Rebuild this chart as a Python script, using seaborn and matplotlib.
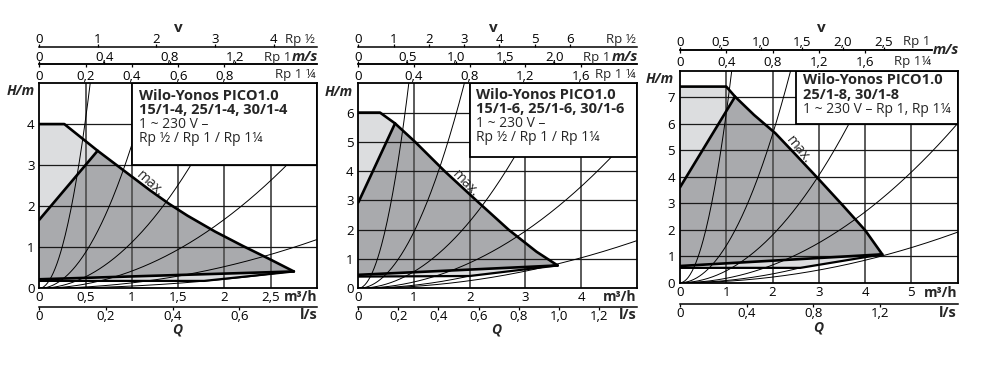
import numpy as np
import matplotlib
matplotlib.use("Agg")
import matplotlib.pyplot as plt
from matplotlib.patches import Rectangle
import seaborn as sns

# ---------------- data ----------------
# panel 1: Wilo-Yonos PICO1.0 15/1-4, 25/1-4, 30/1-4
q_max_1 = [0, 0.27, 0.63, 1.0, 1.2, 1.4, 1.6, 1.9, 2.2, 2.48, 2.75]
h_max_1 = [4.0, 4.0, 3.35, 2.72, 2.38, 2.06, 1.77, 1.38, 1.03, 0.72, 0.41]
q_dpc_1 = [0, 0.63]
h_dpc_1 = [1.67, 3.35]
h_base_1 = [0.22, 0.41]
q_low_1 = [0, 1.78, 2.75]
h_low_1 = [0.18, 0.18, 0.41]
k_sys_1 = [16.5, 3.5, 1.12, 0.42, 0.132, 0.055]
qend_sys_1 = [3, 3, 3, 3, 3, 2.75]
x_ticks_1 = [0, 0.5, 1, 1.5, 2, 2.5]
x_labels_1 = ["0", "0,5", "1", "1,5", "2", "2,5"]
y_ticks_1 = [0, 1, 2, 3, 4]
rp12_ticks_1 = [0, 1, 2, 3, 4]
rp1_ticks_1 = [0, 0.4, 0.8, 1.2]
rp1_labels_1 = ["0", "0,4", "0,8", "1,2"]
rp114_ticks_1 = [0, 0.2, 0.4, 0.6, 0.8]
rp114_labels_1 = ["0", "0,2", "0,4", "0,6", "0,8"]
ls_ticks_1 = [0, 0.2, 0.4, 0.6]
ls_labels_1 = ["0", "0,2", "0,4", "0,6"]
text_1 = ["Wilo-Yonos PICO1.0", "15/1-4, 25/1-4, 30/1-4", "1 ~ 230 V –", "Rp ½ / Rp 1 / Rp 1¼"]

# panel 2: Wilo-Yonos PICO1.0 15/1-6, 25/1-6, 30/1-6
q_max_2 = [0, 0.39, 0.66, 1.02, 1.55, 2.12, 2.7, 3.2, 3.58]
h_max_2 = [6.0, 6.0, 5.63, 5.0, 4.0, 3.0, 2.0, 1.25, 0.78]
q_dpc_2 = [0, 0.66]
h_dpc_2 = [2.93, 5.63]
h_base_2 = [0.46, 0.78]
q_low_2 = [0, 2.0, 3.58]
h_low_2 = [0.40, 0.42, 0.78]
k_sys_2 = [8.5, 1.93, 0.57, 0.217, 0.065, 0.105]
qend_sys_2 = [5, 5, 5, 5, 5, 2.0]
x_ticks_2 = [0, 1, 2, 3, 4]
x_labels_2 = ["0", "1", "2", "3", "4"]
y_ticks_2 = [0, 1, 2, 3, 4, 5, 6]
rp12_ticks_2 = [0, 1, 2, 3, 4, 5, 6]
rp1_ticks_2 = [0, 0.5, 1.0, 1.5, 2.0]
rp1_labels_2 = ["0", "0,5", "1,0", "1,5", "2,0"]
rp114_ticks_2 = [0, 0.4, 0.8, 1.2, 1.6]
rp114_labels_2 = ["0", "0,4", "0,8", "1,2", "1,6"]
ls_ticks_2 = [0, 0.2, 0.4, 0.6, 0.8, 1.0, 1.2]
ls_labels_2 = ["0", "0,2", "0,4", "0,6", "0,8", "1,0", "1,2"]
text_2 = ["Wilo-Yonos PICO1.0", "15/1-6, 25/1-6, 30/1-6", "1 ~ 230 V –", "Rp ½ / Rp 1 / Rp 1¼"]

# panel 3: Wilo-Yonos PICO1.0 25/1-8, 30/1-8
q_max_3 = [0, 1.0, 1.19, 1.6, 2.06, 2.5, 3.0, 3.5, 4.0, 4.37]
h_max_3 = [7.4, 7.4, 7.02, 6.33, 5.64, 4.83, 3.9, 2.95, 1.98, 1.07]
q_dpc_3 = [0, 1.19]
h_dpc_3 = [3.6, 7.02]
h_base_3 = [0.63, 1.07]
q_low_3 = [0, 2.6, 4.37]
h_low_3 = [0.56, 0.56, 1.07]
k_sys_3 = [6.4, 1.4, 0.45, 0.167, 0.053, 0.083]
qend_sys_3 = [6, 6, 6, 6, 6, 2.6]
x_ticks_3 = [0, 1, 2, 3, 4, 5]
x_labels_3 = ["0", "1", "2", "3", "4", "5"]
y_ticks_3 = [0, 1, 2, 3, 4, 5, 6, 7]
rp1_ticks_3 = [0, 0.5, 1.0, 1.5, 2.0, 2.5]
rp1_labels_3 = ["0", "0,5", "1,0", "1,5", "2,0", "2,5"]
rp114_ticks_3 = [0, 0.4, 0.8, 1.2, 1.6]
rp114_labels_3 = ["0", "0,4", "0,8", "1,2", "1,6"]
ls_ticks_3 = [0, 0.4, 0.8, 1.2]
ls_labels_3 = ["0", "0,4", "0,8", "1,2"]
text_3 = ["Wilo-Yonos PICO1.0", "25/1-8, 30/1-8", "1 ~ 230 V – Rp 1, Rp 1¼"]

# m3/h per m/s for each pipe size, m3/h per l/s
F_RP12, F_RP1, F_RP114, F_LS = 0.633, 1.76, 2.5, 3.6

DARK = "#a9aaad"
LIGHT = "#dcdddf"
FS = 9.5  # tick label size

panels = [
    dict(q_max=q_max_1, h_max=h_max_1, q_dpc=q_dpc_1, h_dpc=h_dpc_1, h_base=h_base_1,
         q_low=q_low_1, h_low=h_low_1, k_sys=k_sys_1, qend=qend_sys_1,
         xt=x_ticks_1, xl=x_labels_1, yt=y_ticks_1, lim=(3, 5), boxlo=(1.0, 3.0),
         rp12=rp12_ticks_1, rp1=(rp1_ticks_1, rp1_labels_1), rp114=(rp114_ticks_1, rp114_labels_1),
         ls=(ls_ticks_1, ls_labels_1), text=text_1, maxlab=(1.2, 2.55, -42)),
    dict(q_max=q_max_2, h_max=h_max_2, q_dpc=q_dpc_2, h_dpc=h_dpc_2, h_base=h_base_2,
         q_low=q_low_2, h_low=h_low_2, k_sys=k_sys_2, qend=qend_sys_2,
         xt=x_ticks_2, xl=x_labels_2, yt=y_ticks_2, lim=(5, 7), boxlo=(2.0, 4.5),
         rp12=rp12_ticks_2, rp1=(rp1_ticks_2, rp1_labels_2), rp114=(rp114_ticks_2, rp114_labels_2),
         ls=(ls_ticks_2, ls_labels_2), text=text_2, maxlab=(1.92, 3.55, -46)),
    dict(q_max=q_max_3, h_max=h_max_3, q_dpc=q_dpc_3, h_dpc=h_dpc_3, h_base=h_base_3,
         q_low=q_low_3, h_low=h_low_3, k_sys=k_sys_3, qend=qend_sys_3,
         xt=x_ticks_3, xl=x_labels_3, yt=y_ticks_3, lim=(6, 8), boxlo=(2.5, 6.0),
         rp12=None, rp1=(rp1_ticks_3, rp1_labels_3), rp114=(rp114_ticks_3, rp114_labels_3),
         ls=(ls_ticks_3, ls_labels_3), text=text_3, maxlab=(2.55, 5.0, -51)),
]

# pixel layout (left, top, right, bottom) and decoration positions
layouts = [
    dict(box=(39.3, 83, 317, 288.3), line12=46.7, line1=64.3, linels=306.7, top_end=None,
         v=(178, 27.5), hm=(21, 91), q=(177, 329), mh=(317, 296.7), lsl=(318, 315),
         r12=(315, 43.3), r1=(291, 61), ms=(292, 61), r114=(316, 78.3),
         tx=139.3, ty=[100, 113.5, 128, 141.5]),
    dict(box=(358.3, 83.3, 636.7, 288.3), line12=46.7, line1=64.3, linels=306.7, top_end=None,
         v=(493.3, 27.5), hm=(339, 91.5), q=(496.7, 329), mh=(636.7, 296.7), lsl=(637, 315),
         r12=(636, 43.3), r1=(610, 61), ms=(611.5, 61), r114=(636, 78.3),
         tx=476, ty=[99.3, 113.3, 126.7, 140.7]),
    dict(box=(680, 70.7, 957.7, 282.7), line12=None, line1=50, linels=304, top_end=5.45,
         v=(821.7, 27.5), hm=(660, 79), q=(818.3, 327.5), mh=(957.7, 293.3), lsl=(957, 313.3),
         r12=None, r1=(930.7, 45), ms=(933, 54), r114=(930.7, 65),
         tx=802.7, ty=[84, 99, 113.3]),
]

W, H = 999, 387
sns.set_theme(style="white")
plt.rcParams['font.family'] = ['Open Sans', 'DejaVu Sans']
plt.rcParams['axes.edgecolor'] = 'black'

fig = plt.figure(figsize=(W / 100, H / 100), dpi=100)


def fx(x):
    return x / W


def fy(y):
    return 1 - y / H


def speed_axis(ax, loc, factor, ticks, labels, side, end_q=None, length=2.0, pad=-1.5):
    sec = ax.secondary_xaxis(loc, functions=(lambda q, f=factor: q / f,
                                             lambda v, f=factor: v * f))
    sec.set_alignment(side)
    sec.set_ticks(ticks, labels)
    sec.tick_params(axis='x', direction='out', length=length, width=0.9, pad=pad,
                    labelsize=FS, colors='black')
    for s in ('top', 'bottom'):
        sec.spines[s].set_linewidth(1.1)
        sec.spines[s].set_color('black')
        if end_q is not None:
            sec.spines[s].set_bounds(0, end_q / factor)
    return sec


for p, lay in zip(panels, layouts):
    l, t, r, b = lay['box']
    ax = fig.add_axes([fx(l), fy(b), (r - l) / W, (b - t) / H])
    xmax, ymax = p['lim']
    ax.set_xlim(0, xmax)
    ax.set_ylim(0, ymax)

    # light area (between max curve and lower limit)
    light_q = p['q_max'] + p['q_low'][::-1][1:]
    light_h = p['h_max'] + p['h_low'][::-1][1:]
    ax.fill(light_q, light_h, color=LIGHT, lw=0, zorder=1)
    # dark area (control range)
    i0 = p['q_max'].index(p['q_dpc'][1])
    dark_q = [0] + p['q_max'][i0:] + [0]
    dark_h = [p['h_dpc'][0]] + p['h_max'][i0:] + [p['h_base'][0]]
    ax.fill(dark_q, dark_h, color=DARK, lw=0, zorder=1.1)

    # grid
    for q in p['xt'][1:]:
        ax.axvline(q, color='#5a5a5a', lw=1.4, zorder=1.5)
    for h in p['yt'][1:]:
        ax.axhline(h, color='#1a1a1a', lw=0.9, zorder=1.5)

    # system curves
    for k, qe in zip(p['k_sys'], p['qend']):
        qq = np.linspace(0, qe, 300)
        sns.lineplot(x=qq, y=k * qq ** 2, ax=ax, color='black', lw=0.7,
                     zorder=2, estimator=None, sort=False)

    # pump curves
    thick = dict(color='black', lw=1.9, zorder=3, estimator=None, sort=False,
                 solid_joinstyle='round')
    sns.lineplot(x=p['q_max'], y=p['h_max'], ax=ax, **thick)
    sns.lineplot(x=p['q_dpc'], y=p['h_dpc'], ax=ax, **thick)
    sns.lineplot(x=[0, p['q_max'][-1]], y=p['h_base'], ax=ax, **thick)
    sns.lineplot(x=p['q_low'], y=p['h_low'], ax=ax, **dict(thick, lw=1.6))

    mq, mh, rot = p['maxlab']
    ax.text(mq, mh, "max.", rotation=rot, ha='center', va='center',
            rotation_mode='anchor', fontsize=10, zorder=4)

    bq, bh = p['boxlo']
    ax.add_patch(Rectangle((bq, bh), xmax - bq, ymax - bh, fc='white',
                           ec='black', lw=1.3, zorder=5))

    ax.set_xticks(p['xt'], p['xl'])
    ax.set_yticks(p['yt'], [str(v) for v in p['yt']])
    ax.tick_params(length=0, labelsize=FS, colors='black')
    ax.tick_params(axis='x', pad=2.2)
    ax.tick_params(axis='y', pad=3.5)
    ax.set_xlabel('')
    ax.set_ylabel('')
    for s in ax.spines.values():
        s.set_linewidth(1.3)
        s.set_color('black')
        s.set_zorder(6)

    span = b - t
    if p['rp12'] is not None:
        speed_axis(ax, 1 + (t - lay['line12']) / span, F_RP12, p['rp12'],
                   [str(v) for v in p['rp12']], 'top')
    speed_axis(ax, 1 + (t - lay['line1']) / span, F_RP1, *p['rp1'], 'top', lay['top_end'])
    speed_axis(ax, 1 + (t - lay['line1']) / span, F_RP114, *p['rp114'], 'bottom',
               lay['top_end'], pad=2.2)
    speed_axis(ax, -(lay['linels'] - b) / span, F_LS, *p['ls'], 'bottom',
               length=1.8, pad=0.3)

    # axis names and pipe sizes
    fig.text(fx(lay['v'][0]), fy(lay['v'][1]), "v", ha='center', va='center',
             fontsize=11, fontweight='bold')
    fig.text(fx(lay['hm'][0]), fy(lay['hm'][1]), "H/m", ha='center', va='center',
             fontsize=10, fontweight='bold', fontstyle='italic')
    fig.text(fx(lay['q'][0]), fy(lay['q'][1]), "Q", ha='center', va='center',
             fontsize=10, fontweight='bold', fontstyle='italic')
    fig.text(fx(lay['mh'][0]), fy(lay['mh'][1]), "m³/h", ha='right', va='center',
             fontsize=10, fontweight='bold')
    fig.text(fx(lay['lsl'][0]), fy(lay['lsl'][1]), "l/s", ha='right', va='center',
             fontsize=10.5, fontweight='bold')
    if lay['r12'] is not None:
        fig.text(fx(lay['r12'][0]), fy(lay['r12'][1]), "Rp ½", ha='right',
                 va='baseline', fontsize=FS)
    fig.text(fx(lay['r1'][0]), fy(lay['r1'][1]), "Rp 1", ha='right', va='baseline', fontsize=FS)
    fig.text(fx(lay['ms'][0]), fy(lay['ms'][1]), "m/s", ha='left', va='baseline',
             fontsize=10.5, fontweight='bold', fontstyle='italic')
    fig.text(fx(lay['r114'][0]), fy(lay['r114'][1]),
             "Rp 1¼" if lay['top_end'] else "Rp 1 ¼", ha='right', va='baseline', fontsize=FS)

    # type label in the box
    for i, (line, y) in enumerate(zip(p['text'], lay['ty'])):
        fig.text(fx(lay['tx']), fy(y), line, ha='left', va='baseline',
                 fontsize=10.5 if i < 2 else 10,
                 fontweight='bold' if i < 2 else 'normal', zorder=7)

fig.savefig("out.png", dpi=100)
